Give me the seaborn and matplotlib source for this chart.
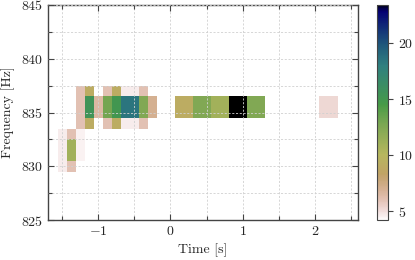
import numpy as np
import pandas as pd
import matplotlib
matplotlib.use("Agg")
import matplotlib.pyplot as plt
import seaborn as sns

# ---- data (time bin centres in s, frequency rows in Hz, power values) ----
times = [-1.5, -1.375, -1.25, -1.125, -1.0, -0.875, -0.75, -0.625, -0.5, -0.375, -0.25,
         0.125, 0.25, 0.375, 0.5, 0.625, 0.75, 0.875, 1.0, 1.125, 1.25, 2.125, 2.25]

row_837 = [0, 0, 6.0, 9.0, 0, 6.0, 9.0, 4.6, 4.6, 6.0, 0,
           0, 0, 0, 0, 0, 0, 0, 0, 0, 0, 0, 0]
row_836 = [0, 0, 6.0, 15.5, 6.5, 13.0, 15.0, 18.5, 18.5, 12.5, 7.0,
           9.0, 9.0, 12.5, 12.5, 11.0, 11.0, 23.4, 23.4, 12.5, 12.5, 5.2, 5.2]
row_835 = [0, 0, 6.0, 15.5, 6.5, 13.0, 15.0, 18.5, 18.5, 12.5, 7.0,
           9.0, 9.0, 12.5, 12.5, 11.0, 11.0, 23.4, 23.4, 12.5, 12.5, 5.2, 5.2]
row_834 = [0, 0, 6.0, 9.0, 0, 6.0, 9.0, 4.6, 4.6, 6.0, 0,
           0, 0, 0, 0, 0, 0, 0, 0, 0, 0, 0, 0]
row_833 = [4.6, 6.0, 4.5, 0, 0, 0, 0, 0, 0, 0, 0,
           0, 0, 0, 0, 0, 0, 0, 0, 0, 0, 0, 0]
row_832 = [4.6, 11.0, 4.5, 0, 0, 0, 0, 0, 0, 0, 0,
           0, 0, 0, 0, 0, 0, 0, 0, 0, 0, 0, 0]
row_831 = [4.6, 11.0, 4.5, 0, 0, 0, 0, 0, 0, 0, 0,
           0, 0, 0, 0, 0, 0, 0, 0, 0, 0, 0, 0]
row_830 = [4.6, 6.0, 0, 0, 0, 0, 0, 0, 0, 0, 0,
           0, 0, 0, 0, 0, 0, 0, 0, 0, 0, 0, 0]

rows = {837: row_837, 836: row_836, 835: row_835, 834: row_834,
        833: row_833, 832: row_832, 831: row_831, 830: row_830}

records = []
for f, vals in rows.items():
    for t, v in zip(times, vals):
        if v > 0:
            records.append((t, f, v))
df = pd.DataFrame(records, columns=["time", "freq", "power"])

# ---- style ----
sns.set_theme(style="ticks")
plt.rcParams.update({
    "font.family": "serif",
    "font.serif": ["cmr10"],
    "mathtext.fontset": "cm",
    "axes.formatter.use_mathtext": True,
    "axes.unicode_minus": True,
    "font.size": 10,
    "axes.labelsize": 10,
    "xtick.labelsize": 10,
    "ytick.labelsize": 10,
})

fig = plt.figure(figsize=(4.15, 2.6), dpi=100)
ax = fig.add_axes([47.7 / 415, 40 / 260, (358.3 - 47.7) / 415, 215 / 260])
cax = fig.add_axes([377.3 / 415, 40 / 260, 11 / 415, 215 / 260])

dt, df_ = 0.125, 1.0
t_edges = list(np.arange(-1.5 - dt / 2, 2.25 + dt, dt))
f_edges = list(np.arange(829.5, 838.5, df_))

sns.histplot(data=df, x="time", y="freq", weights="power",
             bins=(t_edges, f_edges), cmap="gist_earth_r",
             vmin=4.2, vmax=23.4, cbar=True, cbar_ax=cax, ax=ax)

ax.set_xlim(-1.7, 2.6)
ax.set_ylim(825, 845)
ax.set_xticks([-1, 0, 1, 2])
ax.set_xticks([-1.5, -0.5, 0.5, 1.5, 2.5], minor=True)
ax.set_yticks([825, 830, 835, 840, 845])
ax.set_yticks([827.5, 832.5, 837.5, 842.5], minor=True)
ax.set_xlabel("Time [s]")
ax.set_ylabel("Frequency [Hz]")

ax.tick_params(which="both", direction="in", top=True, right=True,
               color="#444444", width=0.8)
ax.tick_params(which="major", length=4)
ax.tick_params(which="minor", length=3)
ax.grid(True, which="both", linestyle=(0, (2.5, 2)), color="#d0d0d0", linewidth=0.6)
ax.set_axisbelow(False)
for s in ax.spines.values():
    s.set_color("#444444")
    s.set_linewidth(1.0)

cax.set_yticks([5, 10, 15, 20])
cax.tick_params(direction="out", length=3.5, width=0.8, color="#444444")
cax.minorticks_off()
for s in cax.spines.values():
    s.set_color("#444444")
    s.set_linewidth(0.8)

fig.savefig("out.png", dpi=100)
